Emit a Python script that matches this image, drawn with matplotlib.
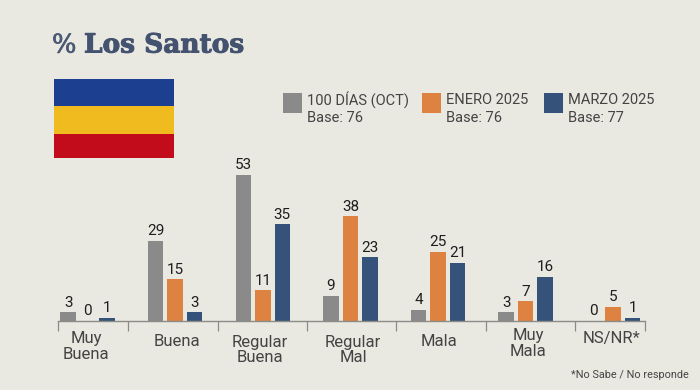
import matplotlib
matplotlib.use("Agg")
import matplotlib.pyplot as plt
from matplotlib.patches import Rectangle
import matplotlib.patheffects as pe

categories = ["Muy\nBuena", "Buena", "Regular\nBuena", "Regular\nMal", "Mala", "Muy\nMala", "NS/NR*"]
oct_100 = [3, 29, 53, 9, 4, 3, 0]
enero = [0, 15, 11, 38, 25, 7, 5]
marzo = [1, 3, 35, 23, 21, 16, 1]
legend_names = ["100 DÍAS (OCT)", "ENERO 2025", "MARZO 2025"]
legend_bases = ["Base: 76", "Base: 76", "Base: 77"]
colors = ["#8A8A8A", "#DD8240", "#35527A"]
flag_colors = ["#1D3F8F", "#EFBB1E", "#C20C1C"]

W, H = 700, 390
BG = "#E9E8E1"
TXT = "#444444"
FONT = "Roboto"

fig = plt.figure(figsize=(W / 100, H / 100), dpi=100, facecolor=BG)

def fx(px): return px / W
def fy(py): return 1 - py / H

ax = fig.add_axes([fx(58), fy(320.5), (645 - 58) / W, (320.5 - 160) / H])
ax.set_facecolor("none")
S = 87.6
ax.set_xlim(58 / S - 1, 645 / S - 1)
ax.set_ylim(0, 160.5 / 2.75)
w = 15.5 / S
off = 19.5 / S
for series, d, c in zip((oct_100, enero, marzo), (-off, 0, off), colors):
    for i, v in enumerate(series):
        ax.bar(i + d, v, width=w, color=c, linewidth=0)
        ax.text(i + d, v + 0.9, str(v), ha="center", va="bottom", fontsize=11,
                family="Roboto", color="#1E1E1E", clip_on=False)

for s in ("top", "left", "right"):
    ax.spines[s].set_visible(False)
ax.spines["bottom"].set_color("#8C8C86")
ax.spines["bottom"].set_linewidth(1.0)
ax.set_yticks([])
tick_px = [58, 128, 218, 307, 396, 486, 575, 645]
ax.set_xticks([p / S - 1 for p in tick_px])
ax.set_xticklabels([])
ax.tick_params(axis="x", length=7, width=0.9, color="#8C8C86")

label_px = [(86, 346.5), (177, 341), (260, 350), (353, 350), (439, 341), (528, 343.5), (612, 339)]
for name, (lx, ly) in zip(categories, label_px):
    fig.text(fx(lx), fy(ly), name, ha="center", va="center", fontsize=12,
             family=FONT, color=TXT, linespacing=1.08)

# title
fig.text(fx(52), fy(45), "%", ha="left", va="center", fontsize=18.5,
         family="DejaVu Serif", color="#4A5A75",
         path_effects=[pe.withStroke(linewidth=0.5, foreground="#4A5A75")])
fig.text(fx(84), fy(45), "Los Santos", ha="left", va="center", fontsize=19,
         family="DejaVu Serif", fontweight="bold", color="#43526F",
         path_effects=[pe.withStroke(linewidth=0.7, foreground="#43526F")])

# flag
for c, (y0, y1) in zip(flag_colors, [(79, 105.5), (105.5, 133.5), (133.5, 158)]):
    fig.add_artist(Rectangle((fx(54), fy(y1)), 120 / W, (y1 - y0) / H,
                             transform=fig.transFigure, color=c, linewidth=0))

# legend
for c, name, base, sx, tx in zip(colors, legend_names, legend_bases,
                                 (283, 422, 544), (307, 446, 568)):
    fig.add_artist(Rectangle((fx(sx), fy(112.5)), 19 / W, 19 / H,
                             transform=fig.transFigure, color=c, linewidth=0))
    fig.text(fx(tx), fy(100), name, ha="left", va="center", fontsize=10.5,
             family=FONT, color=TXT)
    fig.text(fx(tx), fy(117.5), base, ha="left", va="center", fontsize=10.5,
             family=FONT, color=TXT)

fig.text(fx(689), fy(375), "*No Sabe / No responde", ha="right", va="center",
         fontsize=7.8, family=FONT, color=TXT)

fig.savefig("out.png", dpi=100, facecolor=BG)
